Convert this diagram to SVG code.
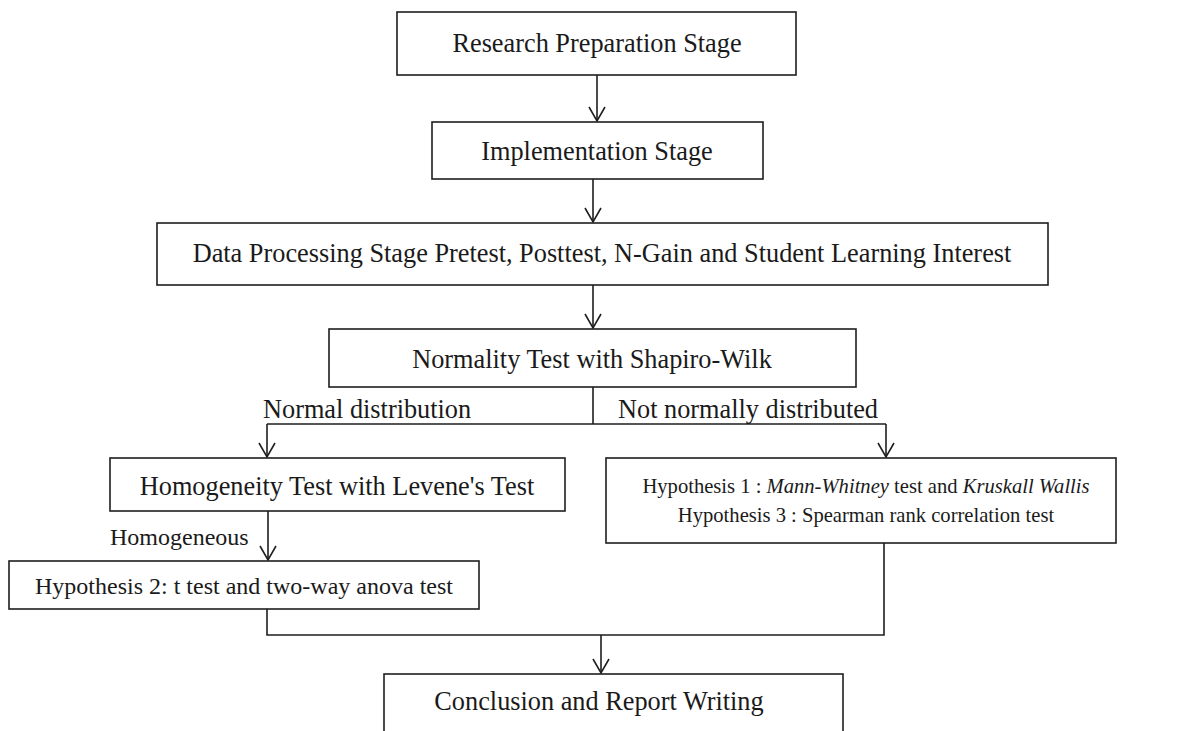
<svg xmlns="http://www.w3.org/2000/svg" width="1201" height="731" viewBox="0 0 1201 731">
  <style>
    .box { fill: #ffffff; stroke: #1e1e1e; stroke-width: 1.6; }
    .ln { fill: none; stroke: #1e1e1e; stroke-width: 1.6; }
    .t { font-family: "Liberation Serif", "Times New Roman", serif; font-size: 26.3px; fill: #1a1a1a; text-anchor: middle; }
    .lbl { font-family: "Liberation Serif", "Times New Roman", serif; font-size: 26.3px; fill: #1a1a1a; }
    .s24 { font-size: 24px; }
    .s20 { font-size: 20.6px; }
  </style>
  <defs>
    <marker id="arr" viewBox="-16 -10 18 20" refX="0" refY="0" markerWidth="18" markerHeight="20" markerUnits="userSpaceOnUse" orient="auto">
      <path d="M-14,-8 L0,0 L-14,8" fill="none" stroke="#1e1e1e" stroke-width="1.6"/>
    </marker>
  </defs>
  <rect width="1201" height="731" fill="#ffffff"/>

  <g id="connectors">
    <line class="ln" x1="597" y1="75" x2="597" y2="121" marker-end="url(#arr)"/>
    <line class="ln" x1="593" y1="179" x2="593" y2="222" marker-end="url(#arr)"/>
    <line class="ln" x1="593" y1="285" x2="593" y2="328" marker-end="url(#arr)"/>
    <line class="ln" x1="593" y1="387" x2="593" y2="424"/>
    <line class="ln" x1="267" y1="424" x2="886" y2="424"/>
    <line class="ln" x1="267" y1="424" x2="267" y2="457" marker-end="url(#arr)"/>
    <line class="ln" x1="886" y1="424" x2="886" y2="457" marker-end="url(#arr)"/>
    <line class="ln" x1="268" y1="511" x2="268" y2="560" marker-end="url(#arr)"/>
    <polyline class="ln" points="267,609 267,635 884,635 884,543"/>
    <line class="ln" x1="601" y1="635" x2="601" y2="673" marker-end="url(#arr)"/>
    <text class="lbl" x="263" y="418">Normal distribution</text>
    <text class="lbl" x="618" y="418">Not normally distributed</text>
    <text class="lbl s24" x="110" y="545">Homogeneous</text>
  </g>

  <g id="n-research">
    <rect class="box" x="397" y="12" width="399" height="63"/>
    <text class="t" x="597" y="52">Research Preparation Stage</text>
  </g>
  <g id="n-implementation">
    <rect class="box" x="432" y="122" width="331" height="57"/>
    <text class="t" x="597" y="160">Implementation Stage</text>
  </g>
  <g id="n-dataprocessing">
    <rect class="box" x="157" y="223" width="891" height="62"/>
    <text class="t" x="602" y="262">Data Processing Stage Pretest, Posttest, N-Gain and Student Learning Interest</text>
  </g>
  <g id="n-normality">
    <rect class="box" x="329" y="329" width="527" height="58"/>
    <text class="t" x="592" y="368">Normality Test with Shapiro-Wilk</text>
  </g>
  <g id="n-homogeneity">
    <rect class="box" x="110" y="458" width="455" height="53"/>
    <text class="t" x="337" y="495">Homogeneity Test with Levene's Test</text>
  </g>
  <g id="n-hyp13">
    <rect class="box" x="606" y="458" width="510" height="85"/>
    <text class="t s20" x="866" y="493">Hypothesis 1 : <tspan font-style="italic">Mann-Whitney</tspan> test and <tspan font-style="italic">Kruskall Wallis</tspan></text>
    <text class="t s20" x="866" y="522">Hypothesis 3 : Spearman rank correlation test</text>
  </g>
  <g id="n-hyp2">
    <rect class="box" x="9" y="561" width="470" height="48"/>
    <text class="t s24" x="244" y="594">Hypothesis 2: t test and two-way anova test</text>
  </g>
  <g id="n-conclusion">
    <rect class="box" x="384" y="674" width="459" height="70"/>
    <text class="t" x="599" y="710">Conclusion and Report Writing</text>
  </g>
</svg>
